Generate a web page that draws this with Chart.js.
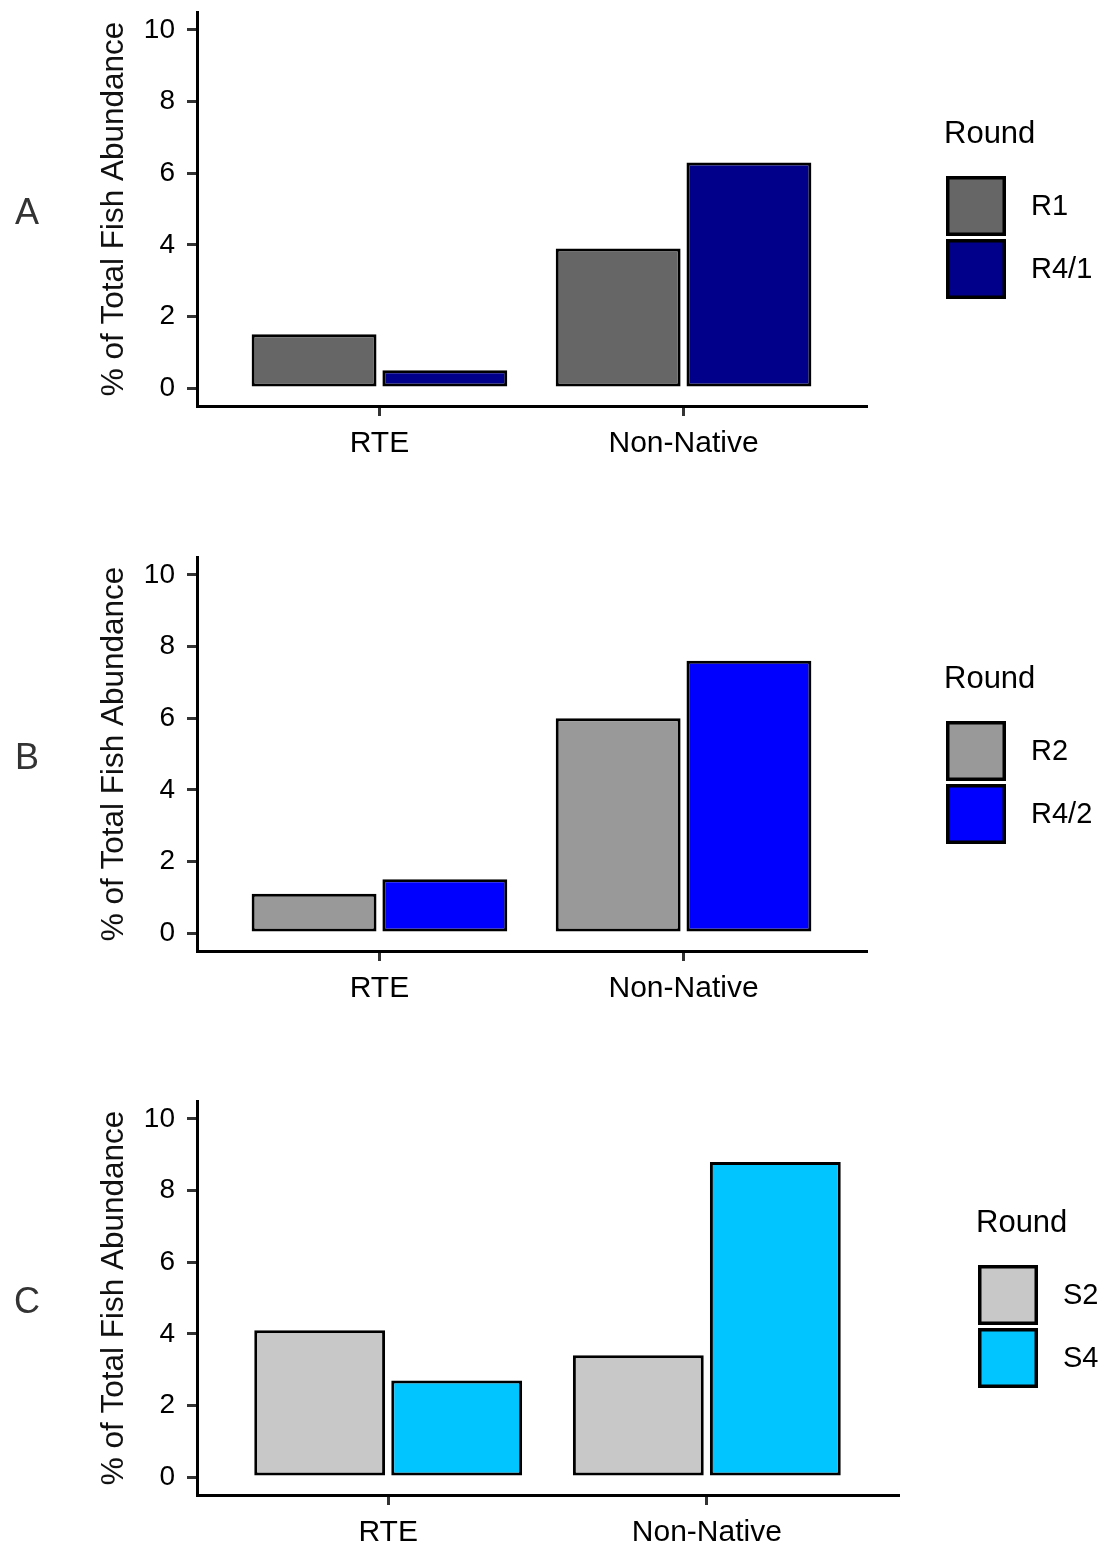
<!DOCTYPE html>
<html>
<head>
<meta charset="utf-8">
<title>% of Total Fish Abundance by Round</title>
<script src="https://cdn.jsdelivr.net/npm/chart.js@4.4.1/dist/chart.umd.min.js"></script>
<style>
  body { margin: 0; background: #fff; }
  #wrap { position: relative; width: 1102px; height: 1548px; }
  canvas { position: absolute; left: 0; }
</style>
</head>
<body>
<div id="wrap">
  <canvas id="panelA" width="1102" height="459" style="top:0px"></canvas>
  <canvas id="panelB" width="1102" height="459" style="top:545px"></canvas>
  <canvas id="panelC" width="1102" height="459" style="top:1089px"></canvas>
</div>
<script>
// categorias y ticks
const categories = ['RTE', 'Non-Native'];
const yTicks = [0, 2, 4, 6, 8, 10];
const legendTitle = 'Round';

// panel A
const roundsA = ['R1', 'R4/1'];
const valuesA_R1 = [1.5, 3.9];
const valuesA_R41 = [0.5, 6.3];

// panel B
const roundsB = ['R2', 'R4/2'];
const valuesB_R2 = [1.1, 6.0];
const valuesB_R42 = [1.5, 7.6];

// panel C
const roundsC = ['S2', 'S4'];
const valuesC_S2 = [4.1, 3.4];
const valuesC_S4 = [2.7, 8.8];

const FONT = '"Liberation Sans", Arial, sans-serif';

// leyenda estilo ggplot + letra del panel
const panelDecor = {
    id: 'panelDecor',
    afterDraw(chart, args, opts) {
        const ctx = chart.ctx;
        const area = chart.chartArea;
        const midY = (area.top + area.bottom) / 2;

        ctx.save();
        // letra
        ctx.fillStyle = '#333';
        ctx.font = '36px ' + FONT;
        ctx.textAlign = 'center';
        ctx.textBaseline = 'middle';
        ctx.fillText(opts.letter, 27, midY + 5);

        // leyenda
        const boxX = area.right + 80;
        const top = midY - 90;
        ctx.fillStyle = '#000';
        ctx.font = '31px ' + FONT;
        ctx.textAlign = 'left';
        ctx.fillText(legendTitle, boxX - 2, top + 15);

        ctx.font = '29px ' + FONT;
        chart.data.datasets.forEach((ds, i) => {
            const y = top + 57 + i * 63;
            ctx.fillStyle = ds.backgroundColor;
            ctx.fillRect(boxX, y, 60, 60);
            ctx.lineWidth = 3.5;
            ctx.strokeStyle = '#000';
            ctx.strokeRect(boxX + 1.75, y + 1.75, 56.5, 56.5);
            ctx.fillStyle = '#000';
            ctx.fillText(ds.label, boxX + 85, y + 31);
        });
        ctx.restore();
    }
};

function toPoints(values) {
    return categories.map((c, i) => ({ x: i, y: values[i] }));
}

// sin padding extra de las etiquetas, el area queda donde la pongo
function noLabelPadding(scale) {
    scale.paddingTop = 0;
    scale.paddingBottom = 0;
    scale.paddingLeft = 0;
    scale.paddingRight = 0;
}

function makePanel(canvasId, letter, rounds, seriesList, colors, rightPad) {
    const ctx = document.getElementById(canvasId).getContext('2d');

    new Chart(ctx, {
        type: 'bar',
        data: {
            datasets: seriesList.map((vals, i) => ({
                label: rounds[i],
                data: toPoints(vals),
                backgroundColor: colors[i],
                borderColor: '#000',
                borderWidth: 3,
                borderSkipped: false,
                categoryPercentage: 0.86,
                barPercentage: 0.955
            }))
        },
        plugins: [panelDecor],
        options: {
            responsive: false,
            animation: false,
            layout: { padding: { left: 95, right: rightPad, top: 12, bottom: 0 } },
            scales: {
                x: {
                    type: 'linear',
                    min: -0.6,
                    max: 1.6,
                    offset: false,
                    afterBuildTicks: scale => { scale.ticks = categories.map((c, i) => ({ value: i })); },
                    afterFit: scale => { scale.height = 53; noLabelPadding(scale); },
                    border: { display: true, color: '#000', width: 3 },
                    grid: { display: true, offset: false, drawOnChartArea: false, drawTicks: true, tickLength: 10, color: '#333', lineWidth: 3 },
                    ticks: {
                        color: '#000',
                        padding: 10,
                        maxRotation: 0,
                        font: { family: FONT, size: 30 },
                        callback: value => categories[value]
                    }
                },
                y: {
                    min: -0.5,
                    max: 10.5,
                    afterBuildTicks: scale => { scale.ticks = yTicks.map(v => ({ value: v })); },
                    afterFit: scale => { scale.width = 102; noLabelPadding(scale); },
                    border: { display: true, color: '#000', width: 3 },
                    grid: { display: true, drawOnChartArea: false, drawTicks: true, tickLength: 10, color: '#333', lineWidth: 3 },
                    ticks: {
                        color: '#000',
                        padding: 12,
                        font: { family: FONT, size: 28 }
                    },
                    title: {
                        display: true,
                        text: '% of Total Fish Abundance',
                        color: '#111',
                        padding: 0,
                        font: { family: FONT, size: 31.5, weight: 'normal' }
                    }
                }
            },
            plugins: {
                legend: { display: false },
                tooltip: { enabled: false },
                panelDecor: { letter: letter }
            }
        }
    });
}

makePanel('panelA', 'A', roundsA, [valuesA_R1, valuesA_R41], ['#666666', '#00008B'], 236);
makePanel('panelB', 'B', roundsB, [valuesB_R2, valuesB_R42], ['#999999', '#0000FF'], 236);
makePanel('panelC', 'C', roundsC, [valuesC_S2, valuesC_S4], ['#C8C8C8', '#00C5FF'], 204);
</script>
</body>
</html>
